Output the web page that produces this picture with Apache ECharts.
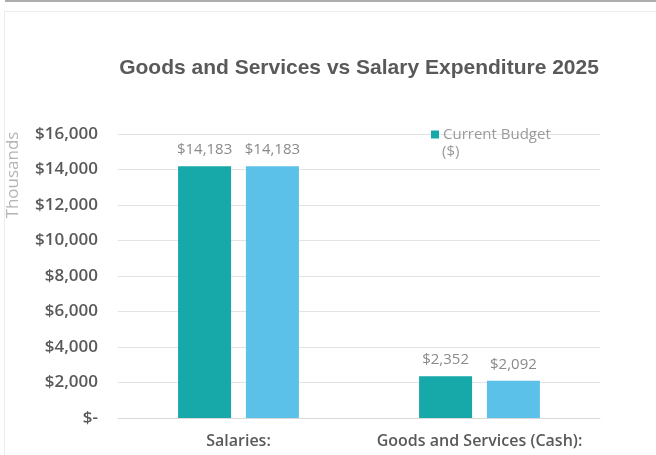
<!DOCTYPE html>
<html>
<head>
<meta charset="utf-8">
<script src="https://cdn.jsdelivr.net/npm/echarts@6/dist/echarts.min.js"></script>
<style>
html,body{margin:0;padding:0;background:#fff;}
#chart{width:656px;height:455px;}
</style>
</head>
<body>
<div id="chart"></div>
<script>
var titleText = 'Goods and Services vs Salary Expenditure 2025';
var categories = ['Salaries:', 'Goods and Services (Cash):'];
var seriesNames = ['Current Budget ($)', 'Revised Budget ($)'];
var currentBudget = [14183, 2352];
var secondSeries = [14183, 2092];
var yTicks = [0, 2000, 4000, 6000, 8000, 10000, 12000, 14000, 16000];
var yAxisName = 'Thousands';

function money(v) {
  if (v === 0) return '$-';
  return '$' + Math.round(v).toString().replace(/\B(?=(\d{3})+(?!\d))/g, ',');
}

var chart = echarts.init(document.getElementById('chart'), null, {renderer: 'canvas'});
var labelCfg = {
  show: true, position: 'top', distance: 9,
  color: '#8a8a8a', fontSize: 15, fontFamily: 'Open Sans',
  formatter: function (p) { return money(p.value); }
};
chart.setOption({
  animation: false,
  backgroundColor: '#ffffff',
  title: {
    text: titleText, left: 354, top: 53, textAlign: 'center',
    textStyle: {fontFamily: 'Liberation Sans', fontWeight: 'bold', fontSize: 21, color: '#595959'}
  },
  legend: {
    data: [seriesNames[0]], left: 426, top: 122, icon: 'rect', itemWidth: 8, itemHeight: 8, itemGap: 4,
    formatter: function () { return 'Current Budget'; },
    textStyle: {color: '#9a9a9a', fontSize: 15, fontFamily: 'Open Sans', padding: [0,0,0,-1]}
  },
  graphic: [
    {type: 'rect', shape: {x: 5, y: 0, width: 651, height: 2}, style: {fill: '#adadad'}, silent: true},
    {type: 'rect', shape: {x: 4, y: 11, width: 652, height: 1}, style: {fill: '#ececec'}, silent: true},
    {type: 'rect', shape: {x: 4, y: 11, width: 1, height: 444}, style: {fill: '#ececec'}, silent: true},
    {type: 'text', left: 442, top: 144, style: {text: '($)', fill: '#9a9a9a', fontSize: 15, fontFamily: 'Open Sans'}},
    {type: 'text', x: 13, y: 175, rotation: Math.PI / 2, style: {text: yAxisName, fill: '#b5b5b5', fontSize: 17, fontFamily: 'Open Sans', align: 'center', verticalAlign: 'middle'}}
  ],
  grid: {left: 118, right: 56, top: 134, bottom: 37},
  xAxis: {
    type: 'category', data: categories,
    axisLine: {show: true, lineStyle: {color: '#d9d9d9'}}, axisTick: {show: false},
    axisLabel: {interval: 0, color: '#595959', fontSize: 16, fontWeight: 600, fontFamily: 'Open Sans', margin: 15}
  },
  yAxis: {
    type: 'value', min: 0, max: 16000, interval: 2000,
    axisLine: {show: false}, axisTick: {show: false},
    splitLine: {lineStyle: {color: '#e3e3e3'}},
    axisLabel: {color: '#595959', fontSize: 17, fontFamily: 'Open Sans', fontWeight: 600, margin: 20,
      formatter: function (v) { return money(v); }}
  },
  series: [
    {name: seriesNames[0], type: 'bar', data: currentBudget, barWidth: 53, barGap: '28%',
      itemStyle: {color: '#17a8a9'}, label: labelCfg},
    {name: seriesNames[1], type: 'bar', data: secondSeries, barWidth: 53, barGap: '28%',
      itemStyle: {color: '#5bc1e9'}, label: labelCfg}
  ]
});
</script>
</body>
</html>
